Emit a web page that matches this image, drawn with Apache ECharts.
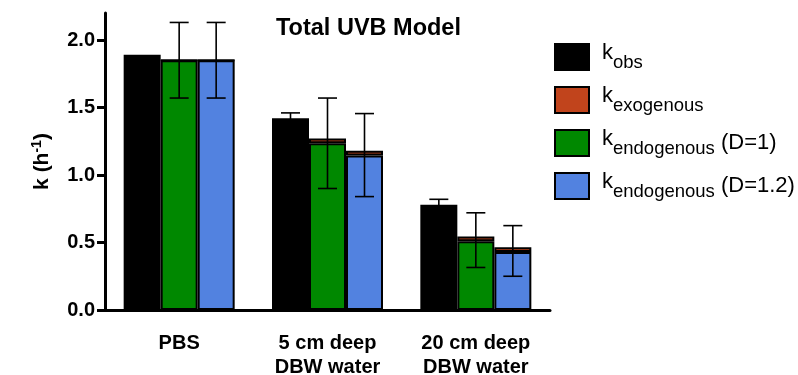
<!DOCTYPE html>
<html>
<head>
<meta charset="utf-8">
<script src="https://cdn.jsdelivr.net/npm/echarts@6/dist/echarts.min.js"></script>
<style>html,body{margin:0;padding:0;background:#fff}#c{width:798px;height:375px}</style>
</head>
<body>
<div id="c"></div>
<script>
const categories = ['PBS', '5 cm deep\nDBW water', '20 cm deep\nDBW water'];
const yTicks = [0, 0.5, 1.0, 1.5, 2.0];

const kObs = [1.89, 1.42, 0.78];
const kExogenous = [0, 0.035, 0.035];
const kEndo1 = [1.85, 1.235, 0.51];
const kEndo12 = [1.85, 1.145, 0.43];

const obsLow = [null, 1.38, 0.74];
const obsHigh = [null, 1.46, 0.82];
const endo1Low = [1.57, 0.90, 0.315];
const endo1High = [2.13, 1.57, 0.72];
const endo12Low = [1.57, 0.84, 0.25];
const endo12High = [2.13, 1.455, 0.625];

const BAR_W = 37;
const FONT = '"Liberation Sans", Arial, Helvetica, sans-serif';

function errSeries(low, high, idx) {
  const data = [];
  low.forEach((l, i) => { if (l != null) data.push([i, l, high[i]]); });
  return {
    type: 'custom', silent: true, z: 10, data: data,
    encode: { x: 0, y: [1, 2] },
    renderItem: function (params, api) {
      const ci = api.value(0);
      const pH = api.coord([ci, api.value(2)]);
      const pL = api.coord([ci, api.value(1)]);
      const x = pH[0] + (idx - 1) * BAR_W;
      const cw = 9.5;
      const st = { stroke: '#000', lineWidth: 1.6 };
      return { type: 'group', children: [
        { type: 'line', shape: { x1: x, y1: pH[1], x2: x, y2: pL[1] }, style: st },
        { type: 'line', shape: { x1: x - cw, y1: pH[1], x2: x + cw, y2: pH[1] }, style: st },
        { type: 'line', shape: { x1: x - cw, y1: pL[1], x2: x + cw, y2: pL[1] }, style: st }
      ]};
    }
  };
}

const legendLabels = {
  'kobs': '{k|k}{s|obs}',
  'kexo': '{k|k}{s|exogenous}',
  'kendo1': '{k|k}{s|endogenous}{p| (D=1)}',
  'kendo12': '{k|k}{s|endogenous}{p| (D=1.2)}'
};

const border = { borderColor: '#000', borderWidth: 2 };

const option = {
  animation: false,
  title: {
    text: 'Total UVB Model', left: 276, top: 17, padding: 0,
    textStyle: { fontFamily: FONT, fontWeight: 'bold', fontSize: 23.5, color: '#000' }
  },
  legend: {
    orient: 'vertical', left: 549, top: 37, icon: 'rect',
    itemWidth: 34, itemHeight: 26, itemGap: 13,
    data: ['kobs', 'kexo', 'kendo1', 'kendo12'],
    formatter: function (n) { return legendLabels[n]; },
    textStyle: {
      fontFamily: FONT, color: '#000',
      rich: {
        k: { fontFamily: FONT, fontSize: 22, color: '#000', padding: [0, 0, 8, 8], verticalAlign: 'bottom' },
        s: { fontFamily: FONT, fontSize: 18.5, color: '#000', verticalAlign: 'bottom' },
        p: { fontFamily: FONT, fontSize: 22, color: '#000', padding: [0, 0, 4, 0], verticalAlign: 'bottom' }
      }
    }
  },
  grid: { left: 105, right: 248, top: 13, bottom: 65, containLabel: false, outerBoundsMode: 'none' },
  xAxis: {
    type: 'category', data: categories,
    axisLine: { lineStyle: { color: '#000', width: 3 } },
    axisTick: { show: false },
    axisLabel: { fontFamily: FONT, fontWeight: 'bold', fontSize: 20, color: '#000', margin: 21, lineHeight: 24 }
  },
  yAxis: {
    type: 'value', min: 0, max: 2.2, interval: 0.5,
    name: '{n|k (h}{u|-1}{n|)}', nameLocation: 'middle', nameGap: 52, nameRotate: 90,
    nameTextStyle: {
      rich: {
        n: { fontFamily: FONT, fontWeight: 'bold', fontSize: 21, color: '#000', verticalAlign: 'bottom' },
        u: { fontFamily: FONT, fontWeight: 'bold', fontSize: 14, color: '#000', padding: [0, 0, 9, 0], verticalAlign: 'bottom' }
      }
    },
    splitLine: { show: false },
    axisLine: { show: true, lineStyle: { color: '#000', width: 3 } },
    axisTick: { show: true, length: 8, lineStyle: { width: 3, color: '#000' }, customValues: yTicks },
    axisLabel: { fontFamily: FONT, fontWeight: 'bold', fontSize: 20, color: '#000', margin: 10,
      customValues: yTicks, formatter: function (v) { return v.toFixed(1); } }
  },
  series: [
    { name: 'kobs', type: 'bar', data: kObs, barWidth: BAR_W, barGap: '0%',
      itemStyle: Object.assign({ color: '#000' }, border) },
    { name: 'kendo1', type: 'bar', stack: 'e1', data: kEndo1, barWidth: BAR_W, barGap: '0%',
      itemStyle: Object.assign({ color: '#008800' }, border) },
    { name: 'kexo', type: 'bar', stack: 'e1', data: kExogenous, barWidth: BAR_W, barGap: '0%',
      itemStyle: Object.assign({ color: '#C1441C' }, border) },
    { name: 'kendo12', type: 'bar', stack: 'e2', data: kEndo12, barWidth: BAR_W, barGap: '0%',
      itemStyle: Object.assign({ color: '#5282E0' }, border) },
    { name: 'kexo', type: 'bar', stack: 'e2', data: kExogenous, barWidth: BAR_W, barGap: '0%',
      itemStyle: Object.assign({ color: '#C1441C' }, border) },
    errSeries(obsLow, obsHigh, 0),
    errSeries(endo1Low, endo1High, 1),
    errSeries(endo12Low, endo12High, 2)
  ]
};
const chart = echarts.init(document.getElementById('c'), null, { renderer: 'canvas' });
chart.setOption(option);
</script>
</body>
</html>
